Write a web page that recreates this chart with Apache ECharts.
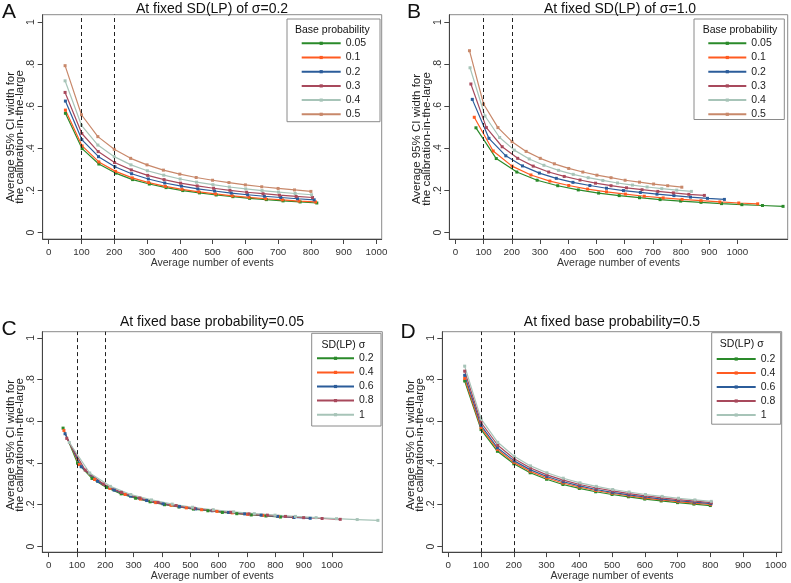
<!DOCTYPE html>
<html>
<head>
<meta charset="utf-8">
<script src="https://cdn.jsdelivr.net/npm/echarts@6/dist/echarts.min.js"></script>
<style>
html,body{margin:0;padding:0;background:#fff;}
#c{width:791px;height:583px;}
</style>
</head>
<body>
<div id="c"></div>
<script>
// ---------- data ----------
const xTicks = [0,100,200,300,400,500,600,700,800,900,1000];
const yTicks = [0,0.2,0.4,0.6,0.8,1];
const yTickLabels = ['0','.2','.4','.6','.8','1'];
const refLines = [100,200];

// Panel A: fixed SD(LP) sigma=0.2, by base probability
const a005x = [51,102,153,204,256,307,358,409,460,511,562,613,664,715,767,818];
const a005y = [.567,.399,.326,.283,.252,.231,.214,.200,.189,.179,.171,.163,.157,.151,.146,.141];
const a01x = [51,102,153,204,255,305,356,407,458,509,560,611,662,713,764,814];
const a01y = [.582,.412,.336,.291,.260,.238,.220,.206,.194,.184,.175,.168,.161,.156,.150,.146];
const a02x = [51,101,152,202,253,304,354,405,455,506,557,607,658,708,759,810];
const a02y = [.625,.442,.361,.313,.280,.255,.236,.221,.208,.198,.188,.180,.173,.167,.161,.156];
const a03x = [50,101,151,201,252,302,352,402,453,503,553,604,654,704,755,805];
const a03y = [.666,.471,.385,.333,.298,.272,.252,.235,.222,.211,.201,.192,.185,.178,.172,.167];
const a04x = [50,100,150,200,251,301,351,401,451,501,551,601,651,701,752,802];
const a04y = [.721,.510,.416,.361,.322,.294,.273,.255,.240,.228,.217,.208,.200,.193,.186,.180];
const a05x = [50,100,150,200,250,300,350,400,450,500,550,600,650,700,750,800];
const a05y = [.793,.560,.456,.396,.353,.322,.297,.278,.262,.249,.238,.227,.218,.210,.203,.196];

// Panel B: fixed SD(LP) sigma=1.0, by base probability
const b005x = [73,145,218,290,363,436,508,581,653,726,799,871,944,1016,1089,1162];
const b005y = [.498,.352,.288,.249,.223,.203,.188,.176,.166,.157,.150,.144,.138,.133,.129,.125];
const b01x = [67,134,201,268,335,402,469,536,603,670,737,804,871,938,1005,1072];
const b01y = [.548,.388,.316,.274,.245,.224,.207,.194,.183,.173,.165,.158,.152,.146,.141,.137];
const b02x = [60,119,179,238,298,358,417,477,536,596,656,715,775,834,894,954];
const b02y = [.633,.448,.365,.317,.283,.258,.239,.224,.211,.200,.191,.183,.176,.169,.163,.158];
const b03x = [55,110,166,221,276,331,386,442,497,552,607,662,718,773,828,883];
const b03y = [.706,.499,.408,.353,.316,.288,.267,.250,.235,.223,.213,.204,.196,.189,.182,.177];
const b04x = [52,105,157,209,262,314,366,418,471,523,575,628,680,732,785,837];
const b04y = [.783,.554,.452,.392,.350,.320,.296,.277,.261,.248,.236,.226,.217,.209,.202,.196];
const b05x = [50,100,151,201,251,301,351,402,452,502,552,602,653,703,753,803];
const b05y = [.864,.611,.499,.432,.386,.353,.327,.305,.288,.273,.261,.249,.240,.231,.223,.216];

// Panel C: fixed base probability 0.05, by SD(LP)
const c02x = a005x, c02y = a005y;
const c04x = [54,108,162,216,270,324,378,432,486,540,594,648,702,756,810,864];
const c04y = [.556,.393,.321,.278,.249,.227,.210,.197,.185,.176,.168,.161,.154,.149,.144,.139];
const c06x = [58,115,173,231,289,346,404,462,519,577,635,692,750,808,866,923];
const c06y = [.540,.382,.312,.270,.241,.220,.204,.191,.180,.171,.163,.156,.150,.144,.139,.135];
const c08x = [64,129,193,257,322,386,450,514,579,643,707,772,836,900,965,1029];
const c08y = [.518,.366,.299,.259,.232,.211,.196,.183,.173,.164,.156,.150,.144,.138,.134,.130];
const c1x = b005x, c1y = b005y;

// Panel D: fixed base probability 0.5, by SD(LP)
const d02x = a05x, d02y = a05y;
const d04x = [50,100,150,200,250,300,350,400,450,500,551,601,651,701,751,801];
const d04y = [.805,.569,.465,.403,.360,.329,.304,.285,.268,.255,.243,.232,.223,.215,.208,.201];
const d06x = [50,100,150,201,251,301,351,401,451,501,551,601,651,702,752,802];
const d06y = [.820,.580,.473,.410,.367,.335,.310,.290,.273,.259,.247,.237,.227,.219,.212,.205];
const d08x = [50,100,151,201,251,301,351,401,452,502,552,602,652,702,753,803];
const d08y = [.840,.594,.485,.420,.376,.343,.318,.297,.280,.266,.253,.242,.233,.224,.217,.210];
const d1x = b05x, d1y = b05y;

const probNames = ['0.05','0.1','0.2','0.3','0.4','0.5'];
const sigmaNames = ['0.2','0.4','0.6','0.8','1'];

// ---------- styling ----------
const F = 'Liberation Sans, Arial, Helvetica, sans-serif';
const colProb = ['#2a8a2a','#ff5b21','#2b5c9a','#a8495c','#a7c4b8','#c8886a'];
const colSig = ['#2a8a2a','#ff5b21','#2b5c9a','#a8495c','#a7c4b8'];

const panels = [
  {id:'A', grid:{left:42.7, top:14.7, width:339, height:224.3}, xmin:-18.3, xmax:1016, ymin:-0.030, ymax:1.035,
   names:probNames, cols:colProb,
   xs:[a005x,a01x,a02x,a03x,a04x,a05x], ys:[a005y,a01y,a02y,a03y,a04y,a05y]},
  {id:'B', grid:{left:449.3, top:14.7, width:338.4, height:224.3}, xmin:-21.5, xmax:1178.5, ymin:-0.030, ymax:1.035,
   names:probNames, cols:colProb,
   xs:[b005x,b01x,b02x,b03x,b04x,b05x], ys:[b005y,b01y,b02y,b03y,b04y,b05y]},
  {id:'C', grid:{left:42.3, top:331.7, width:340, height:221.6}, xmin:-22.3, xmax:1177.5, ymin:-0.027, ymax:1.029,
   names:sigmaNames, cols:colSig,
   xs:[c02x,c04x,c06x,c08x,c1x], ys:[c02y,c04y,c06y,c08y,c1y]},
  {id:'D', grid:{left:442.3, top:331.7, width:339.4, height:221.6}, xmin:-18.3, xmax:1018, ymin:-0.027, ymax:1.029,
   names:sigmaNames, cols:colSig,
   xs:[d02x,d04x,d06x,d08x,d1x], ys:[d02y,d04y,d06y,d08y,d1y]}
];

const grids = [], xAxes = [], yAxes = [], series = [], legends = [];
const axisCol = '#444';
panels.forEach((p, i) => {
  grids.push(Object.assign({show:true, borderColor:'#8a8a8a', borderWidth:1, backgroundColor:'#fff', containLabel:false}, p.grid));
  xAxes.push({
    type:'value', gridIndex:i, min:p.xmin, max:p.xmax,
    name:'Average number of events', nameLocation:'middle', nameGap:16.5,
    nameTextStyle:{fontFamily:F, fontSize:10.5, color:'#333'},
    axisLine:{show:true, onZero:false, lineStyle:{color:axisCol, width:1}},
    axisTick:{show:true, length:5, lineStyle:{color:axisCol}, customValues:xTicks},
    axisLabel:{show:true, margin:8, fontFamily:F, fontSize:9.8, color:'#333', customValues:xTicks,
      formatter:(v)=>String(Math.round(v))},
    splitLine:{show:false}
  });
  yAxes.push({
    type:'value', gridIndex:i, min:p.ymin, max:p.ymax,
    axisLine:{show:true, onZero:false, lineStyle:{color:axisCol, width:1}},
    axisTick:{show:true, length:5, lineStyle:{color:axisCol}, customValues:yTicks},
    axisLabel:{show:true, rotate:90, margin:6, fontFamily:F, fontSize:10.5, color:'#333', customValues:yTicks,
      formatter:(v)=>{ const k = yTicks.findIndex(t=>Math.abs(t-v)<1e-6); return k>=0 ? yTickLabels[k] : ''; }},
    splitLine:{show:false}
  });
  const legendData = [];
  p.names.forEach((nm, j) => {
    const full = p.id + ' ' + nm;
    legendData.push(full);
    const s = {
      name: full, type:'line', xAxisIndex:i, yAxisIndex:i,
      data: p.xs[j].map((x,k)=>[x, p.ys[j][k]]),
      symbol:'rect', symbolSize:3, showSymbol:true,
      lineStyle:{width:1.2, color:p.cols[j]},
      itemStyle:{color:p.cols[j]},
      emphasis:{disabled:true}, silent:true, animation:false, z:2
    };
    if (j === 0) {
      s.markLine = {
        silent:true, symbol:['none','none'], label:{show:false},
        lineStyle:{type:[4,3], color:'#222', width:1},
        data: refLines.map(v=>({xAxis:v})),
        animation:false
      };
    }
    series.push(s);
  });
  legends.push({data:legendData});
});

// legend positions
const legPos = [
  {left:300.7, top:37.3, itemWidth:39, itemGap:2.2},
  {left:707.3, top:37.3, itemWidth:38, itemGap:2.2},
  {left:316,   top:352.3, itemWidth:37, itemGap:2.1},
  {left:715.7, top:353,   itemWidth:39, itemGap:2.0}
];
const legendOpts = legends.map((l, i) => Object.assign({
  data:l.data, orient:'vertical', padding:0, itemHeight:4,
  formatter:(n)=>n.split(' ')[1],
  textStyle:{fontFamily:F, fontSize:10.5, color:'#222', lineHeight:12},
  selectedMode:false, z:6
}, legPos[i]));

const yTitle = 'Average 95% CI width for\nthe calibration-in-the-large';
const txt = (x, y, t, size, opts) => Object.assign({
  type:'text', x:x, y:y, z:10, silent:true,
  style:Object.assign({text:t, fontFamily:F, fontSize:size, fill:'#111', align:'center', verticalAlign:'middle'}, (opts&&opts.style)||{})
}, opts && opts.rotation ? {rotation:opts.rotation} : {});
const rect = (x,y,w,h) => ({type:'rect', z:5, silent:true, shape:{x:x,y:y,width:w,height:h},
  style:{fill:'#fff', stroke:'#8a8a8a', lineWidth:1}});
const yt = {rotation:Math.PI/2, style:{lineHeight:9.5, fill:'#222'}};

const graphics = [
  // panel letters
  txt(9, 12, 'A', 21), txt(414, 12, 'B', 21), txt(9, 329.5, 'C', 21), txt(408, 332, 'D', 21),
  // titles
  txt(212, 9, 'At fixed SD(LP) of σ=0.2', 14),
  txt(620, 9, 'At fixed SD(LP) of σ=1.0', 14),
  txt(212, 321.7, 'At fixed base probability=0.05', 14),
  txt(612, 322, 'At fixed base probability=0.5', 14),
  // y-axis titles
  txt(15.5, 137, yTitle, 11.5, yt),
  txt(422, 139, yTitle, 11.5, yt),
  txt(15.3, 445, yTitle, 11.5, yt),
  txt(415.3, 445, yTitle, 11.5, yt),
  // legend boxes
  rect(287, 19, 93, 102.7), rect(694, 19, 90.3, 100.5),
  rect(311.7, 333.3, 69.3, 92.7), rect(711.7, 332.7, 69, 91.5),
  // legend titles
  txt(332.3, 30, 'Base probability', 10.5), txt(740, 30.5, 'Base probability', 10.5),
  txt(343.3, 345, 'SD(LP) σ', 10.5), txt(741.7, 344, 'SD(LP) σ', 10.5)
];

const chart = echarts.init(document.getElementById('c'), null, {renderer:'canvas', width:791, height:583});
chart.setOption({
  animation:false,
  backgroundColor:'#fff',
  grid:grids, xAxis:xAxes, yAxis:yAxes, series:series,
  legend:legendOpts,
  graphic:graphics
});
</script>
</body>
</html>
